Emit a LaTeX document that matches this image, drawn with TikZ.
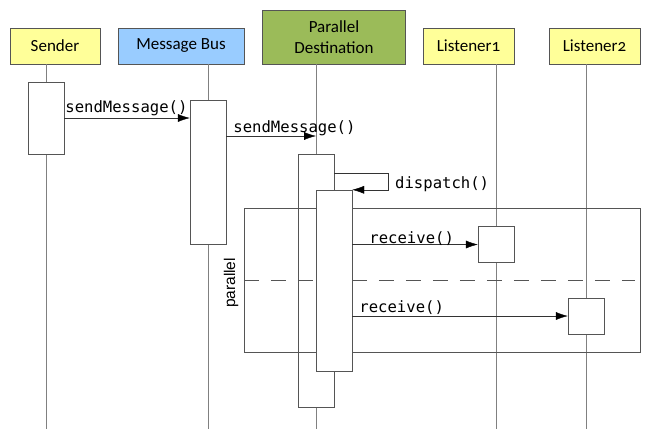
\documentclass[tikz,border=0pt]{standalone}
\usepackage{fontspec}
\setmainfont[Numbers=OldStyle]{Carlito}
\newfontfamily\msgfont{DejaVu Sans Mono}
\newfontfamily\fragfont{Liberation Sans}
\usetikzlibrary{arrows.meta}

\definecolor{headyellow}{HTML}{FFFF99}
\definecolor{headblue}{HTML}{99CCFF}
\definecolor{headgreen}{HTML}{9BBB59}
\definecolor{edgegray}{HTML}{555555}
\definecolor{linegray}{HTML}{808080}

\begin{document}
\begin{tikzpicture}[x=1pt, y=-1pt,
    head/.style={draw=edgegray, minimum height=36pt, inner sep=0pt, align=center,
                 font=\fontsize{17}{20.6}\selectfont},
    act/.style={draw=edgegray, fill=white, minimum width=36pt, inner sep=0pt},
    life/.style={draw=linegray},
    msg/.style={draw=black!80, -{Latex[length=12pt, width=8pt, color=black]}},
    lbl/.style={inner sep=0pt, font=\msgfont\fontsize{15.6}{18}\selectfont}]
    \useasboundingbox (0,0) rectangle (660,429);
    % heads
    \node [head, fill=headyellow, minimum width=90pt] (sender) at (55,46) {Sender};
    \node [head, fill=headblue, minimum width=126pt] (bus) at (181,46) {Message Bus};
    \node [head, fill=headgreen, minimum width=143pt, minimum height=54pt] (dest) at (334,37) {Parallel\\Destination};
    \node [head, fill=headyellow, minimum width=91pt] (lsa) at (468.5,46) {Listener1};
    \node [head, fill=headyellow, minimum width=91pt] (lsb) at (594.5,46) {Listener2};
    % lifelines
    \coordinate (senderx) at (46,429);
    \coordinate (busx) at (208,429);
    \coordinate (destx) at (316,429);
    \coordinate (lsax) at (496,429);
    \coordinate (lsbx) at (586,429);
    \draw [life] (sender.south -| senderx) -- (senderx);
    \draw [life] (bus.south -| busx) -- (busx);
    \draw [life] (dest.south -| destx) -- (destx);
    \draw [life] (lsa.south -| lsax) -- (lsax);
    \draw [life] (lsb.south -| lsbx) -- (lsbx);
    % activations
    \node [act, minimum height=72pt] (senderact) at (46,118) {};
    \node [act, minimum height=144pt] (busact) at (208,172) {};
    \node [act, minimum height=253pt] (destact) at (316,280.5) {};
    % parallel fragment
    \node [draw=edgegray, minimum width=396pt, minimum height=144pt, inner sep=0pt] (frag) at (442,280.5) {};
    \draw [edgegray, dash pattern=on 15pt off 12pt] (frag.west) -- ([xshift=-5pt]frag.east);
    \node [rotate=90, inner sep=0pt, font=\fragfont\fontsize{15.5}{18}\selectfont] (fraglbl) at (231,283) {parallel};
    \node [act, minimum height=181pt] (dispact) at (334,280.5) {};
    \node [act, minimum height=36pt] (lsaact) at (496,244.5) {};
    \node [act, minimum height=36pt] (lsbact) at (586,316) {};
    % messages
    \coordinate (msga) at (senderact.east |- 0,118);
    \draw [msg] (msga) -- (busact.west |- msga);
    \node [lbl, above right, xshift=1pt, yshift=2pt] at (msga) {sendMessage()};
    \coordinate (msgb) at (busact.east |- 0,136);
    \draw [msg] (msgb) -- (destx |- msgb);
    \node [lbl, above right, xshift=7pt] at (msgb) {sendMessage()};
    \coordinate (msgc) at (destact.east |- 0,172.7);
    \coordinate (loopc) at (388,172.7);
    \draw [msg] (msgc) -- (loopc) -- (loopc |- dispact.north) -- (dispact.north east);
    \node [lbl, right] at (395,184) {dispatch()};
    \coordinate (msgd) at (dispact.east |- lsaact);
    \draw [msg] (msgd) -- (lsaact.west);
    \node [lbl, above right, xshift=17pt, yshift=-1pt] at (msgd) {receive()};
    \coordinate (msge) at (dispact.east |- lsbact);
    \draw [msg] (msge) -- (lsbact.west);
    \node [lbl, above right, xshift=7pt, yshift=1pt] at (msge) {receive()};
\end{tikzpicture}
\end{document}
